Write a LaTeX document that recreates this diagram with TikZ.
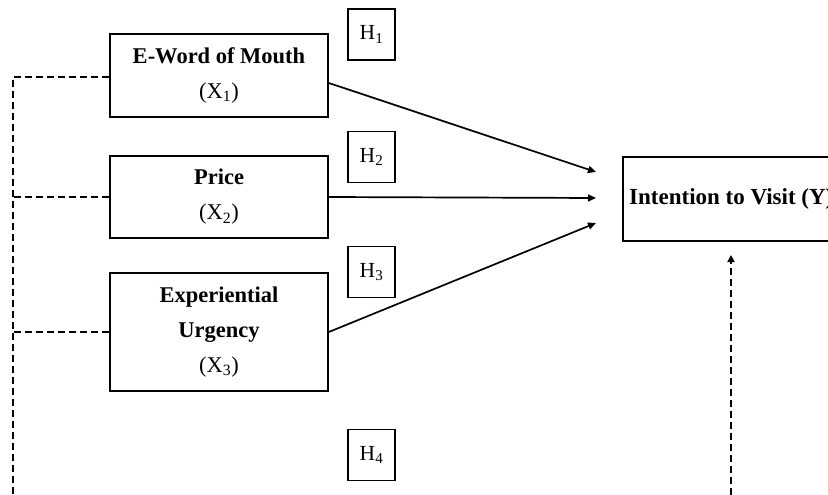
\documentclass[tikz,border=0pt]{standalone}
\usepackage{fontspec}
\setmainfont{Liberation Serif}
\usetikzlibrary{arrows.meta}
\begin{document}
\begin{tikzpicture}[x=1pt,y=-1pt,
  every node/.style={inner sep=0pt},
  varbox/.style={draw,line width=1.6pt,minimum width=218pt,align=center,
    font=\fontsize{22.5}{35}\selectfont},
  hbox/.style={draw,line width=1.4pt,minimum width=47pt,minimum height=51pt,
    font=\fontsize{21.5}{24}\selectfont},
  dashline/.style={line width=1.7pt,dash pattern=on 7.5pt off 3.5pt},
  arr/.style={line width=1.7pt,-{Triangle[length=8pt,width=7pt]}}]
\useasboundingbox (0,0) rectangle (828,495);
% variable boxes
\node[varbox,minimum height=83pt] (x1) at (219,75.5) {\textbf{E-Word of Mouth}\\(X\textsubscript{1})};
\node[varbox,minimum height=82pt] (x2) at (219,197) {\textbf{Price}\\(X\textsubscript{2})};
\node[varbox,minimum height=118pt] (x3) at (219,332) {\textbf{Experiential}\\\textbf{Urgency}\\(X\textsubscript{3})};
% dependent box (cut off at right)
\begin{scope}
\clip (0,0) rectangle (828,495);
\node[draw,line width=1.6pt,minimum width=240pt,minimum height=84pt,anchor=west] (y) at (622,199) {};
\node[anchor=west,font=\fontsize{23}{28}\selectfont\bfseries] (ylab) at (629,199) {Intention to Visit (Y)};
\end{scope}
% hypothesis boxes
\node[hbox] (h1) at (371.5,34.5) {H\textsubscript{1}};
\node[hbox] (h2) at (371.5,157) {H\textsubscript{2}};
\node[hbox] (h3) at (371.5,272) {H\textsubscript{3}};
\node[hbox] (h4) at (371.5,455) {H\textsubscript{4}};
% arrow targets
\coordinate (t1) at (596,172);
\coordinate (t2) at (596,198);
\coordinate (t3) at (596,223);
\draw[arr] (x1.east |- 0,83) -- (t1);
\draw[arr] (x2.east) -- (t2);
\draw[arr] (x3.east) -- (t3);
% left dashed bracket
\coordinate (ltop) at (13,77);
\coordinate (lbot) at (13,495);
\draw[dashline] (x1.west |- ltop) -- (ltop) -- (lbot);
\draw[dashline] (x2.west) -- (13,197);
\draw[dashline] (x3.west) -- (13,332);
% right dashed arrow
\coordinate (rbot) at (731,495);
\draw[dashline,-{Triangle[length=7pt,width=7pt]}] (rbot) -- (731,255);
\end{tikzpicture}
\end{document}
